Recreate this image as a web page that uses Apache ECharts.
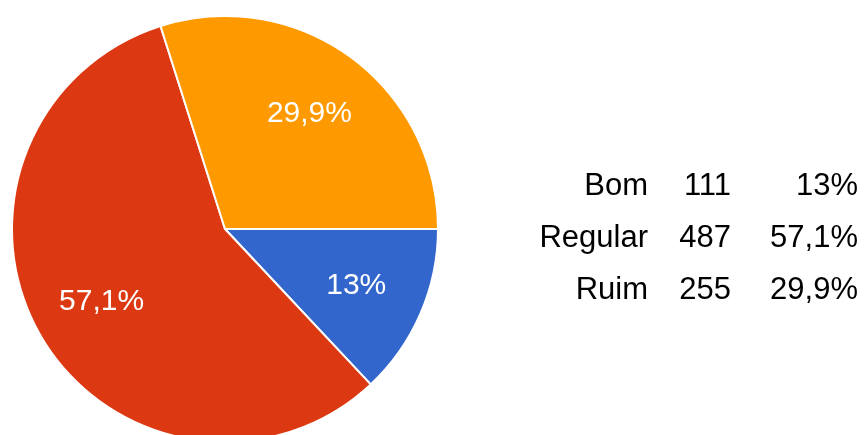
<!DOCTYPE html>
<html>
<head>
<meta charset="utf-8">
<script src="https://cdn.jsdelivr.net/npm/echarts@6/dist/echarts.min.js"></script>
<style>
html,body{margin:0;padding:0;background:#fff;}
#c{width:865px;height:435px;}
</style>
</head>
<body>
<div id="c"></div>
<script>
var categories = ['Bom', 'Regular', 'Ruim'];
var values = [111, 487, 255];
var colors = ['#3366CC', '#DC3912', '#FF9900'];

var total = values.reduce(function (a, b) { return a + b; }, 0);
function pct(v) {
  var s = (v / total * 100).toFixed(1);
  if (s.slice(-2) === '.0') s = s.slice(0, -2);
  return s.replace('.', ',') + '%';
}
var data = categories.map(function (c, i) { return { name: c, value: values[i] }; });

var font = "'Liberation Sans', Arial, sans-serif";
var fs = 31;
var chart = echarts.init(document.getElementById('c'), null, { renderer: 'canvas' });
chart.setOption({
  animation: false,
  color: colors,
  legend: {
    orient: 'vertical',
    left: 492,
    top: 166,
    icon: 'none',
    itemWidth: 10,
    itemHeight: 10,
    itemGap: 21,
    selectedMode: false,
    data: categories,
    formatter: function (name) {
      var i = categories.indexOf(name);
      return '{n|' + name + '}{v|' + values[i] + '}{p|' + pct(values[i]) + '}';
    },
    textStyle: {
      fontFamily: font,
      fontSize: fs,
      color: '#000',
      rich: {
        n: { width: 136, align: 'right', fontFamily: font, fontSize: fs, color: '#000', lineHeight: 31 },
        v: { width: 83, align: 'right', fontFamily: font, fontSize: fs, color: '#000', lineHeight: 31 },
        p: { width: 127, align: 'right', fontFamily: font, fontSize: fs, color: '#000', lineHeight: 31 }
      }
    }
  },
  series: [
    {
      type: 'pie',
      center: [225, 229],
      radius: [0, 213],
      startAngle: 0,
      clockwise: true,
      silent: true,
      label: { show: false },
      labelLine: { show: false },
      itemStyle: { borderColor: '#fff', borderWidth: 2 },
      data: data
    },
    {
      type: 'pie',
      center: [225, 229],
      radius: [67, 213],
      startAngle: 0,
      clockwise: true,
      silent: true,
      itemStyle: { color: 'rgba(0,0,0,0)', borderWidth: 0 },
      label: {
        show: true,
        position: 'inside',
        fontFamily: font,
        fontSize: 30,
        color: '#fff',
        formatter: function (p) { return pct(p.value); }
      },
      labelLine: { show: false },
      emphasis: { disabled: true },
      data: data
    }
  ]
});
</script>
</body>
</html>
